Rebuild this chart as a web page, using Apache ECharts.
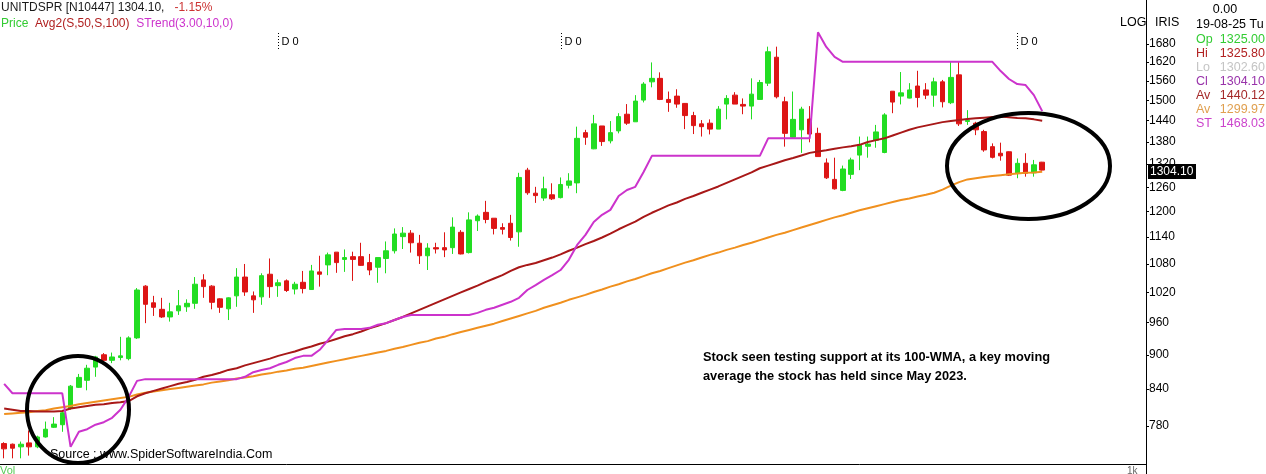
<!DOCTYPE html>
<html><head><meta charset="utf-8">
<script src="https://cdn.jsdelivr.net/npm/echarts@6.0.0/dist/echarts.min.js"></script>
<style>html,body{margin:0;padding:0;background:#fff;overflow:hidden}#chart{width:1266px;height:474px}</style>
</head><body><div id="chart"></div>
<script>
// ---- weekly OHLC (UNITDSPR) ----
const opens = [
753,752,748,754,748,763,778,782,808,843,
855,878,900,890,895,893,931,1033,999,986,
971,983,991,998,1046,1033,1007,987,1013,1052,
1013,1011,1058,1034,1044,1027,1041,1026,1063,1078,
1106,1090,1096,1096,1083,1073,1092,1109,1141,1149,
1126,1098,1116,1116,1116,1151,1105,1178,1198,1184,
1162,1172,1152,1304,1245,1233,1241,1234,1265,1271,
1406,1361,1425,1383,1411,1459,1437,1501,1557,1568,
1503,1513,1491,1455,1431,1433,1416,1489,1516,1488,
1483,1503,1553,1636,1496,1393,1414,1445,1404,1323,
1280,1252,1293,1344,1368,1385,1351,1528,1513,1507,
1544,1532,1516,1557,1493,1579,1438,1433,1409,1367,
1349,1353,1296,1322,1297,1325];
const highs = [
755,753,756,773,765,787,794,803,847,866,
882,898,903,904,933,934,1029,1035,1013,1009,
999,1025,1006,1052,1058,1035,1008,1010,1071,1080,
1022,1060,1092,1047,1047,1042,1065,1078,1098,1105,
1106,1112,1107,1127,1102,1094,1130,1160,1163,1156,
1145,1126,1127,1151,1186,1156,1198,1193,1226,1184,
1172,1192,1297,1310,1261,1287,1270,1285,1296,1423,
1414,1457,1425,1439,1462,1489,1516,1556,1619,1587,
1527,1534,1492,1466,1442,1444,1483,1516,1525,1506,
1568,1563,1671,1671,1511,1527,1481,1483,1420,1335,
1337,1316,1337,1395,1395,1428,1462,1528,1588,1553,
1592,1553,1570,1563,1621,1621,1471,1437,1414,1376,
1378,1354,1335,1349,1331,1325.8];
const lows = [
731,731,731,735,746,762,777,771,806,842,
838,861,888,885,890,890,929,959,973,969,
962,975,981,987,1009,986,979,965,991,1013,
979,995,1009,1011,1021,1016,1018,1025,1032,1056,
1061,1063,1044,1076,1056,1040,1060,1103,1113,1105,
1080,1067,1103,1095,1102,1101,1103,1154,1172,1146,
1146,1132,1118,1241,1221,1226,1228,1232,1257,1245,
1372,1360,1369,1376,1404,1428,1437,1494,1540,1501,
1466,1478,1416,1402,1395,1401,1416,1444,1489,1459,
1444,1503,1544,1506,1367,1390,1350,1379,1340,1281,
1254,1250,1281,1304,1337,1364,1349,1462,1488,1506,
1479,1504,1481,1479,1489,1425,1428,1399,1353,1335,
1329,1289,1283,1287,1287,1302.6];
const closes = [
745,746,752,748,763,775,783,801,845,860,
876,896,890,896,898,931,1025,996,990,971,
981,993,998,1037,1032,1000,990,1009,1052,1021,
1005,1055,1032,1040,1024,1037,1028,1065,1058,1100,
1083,1094,1090,1077,1067,1094,1109,1147,1149,1127,
1098,1115,1113,1111,1163,1102,1180,1189,1181,1160,
1158,1139,1285,1246,1239,1256,1231,1267,1276,1390,
1393,1431,1381,1406,1452,1433,1498,1550,1568,1503,
1494,1489,1455,1426,1423,1416,1474,1506,1489,1483,
1519,1555,1654,1511,1404,1444,1474,1402,1340,1284,
1256,1307,1331,1372,1374,1408,1457,1495,1523,1532,
1509,1516,1557,1496,1571,1431,1441,1414,1358,1338,
1342,1291,1322,1296,1318,1304.1];
// 50-week WMA (Av 1440.12)
const wma50 = [
808,806,804,804,803,803,803,804,808,810,
812,814,815,817,818,820,828,833,837,841,
845,849,852,856,861,864,868,873,876,881,
885,889,893,898,902,906,911,915,920,924,
929,934,938,943,949,954,959,965,971,978,
985,992,999,1006,1013,1020,1027,1034,1042,1049,
1056,1065,1073,1078,1082,1088,1094,1101,1109,1116,
1124,1131,1139,1148,1158,1167,1176,1187,1197,1206,
1215,1222,1231,1238,1246,1254,1262,1271,1280,1289,
1298,1309,1316,1323,1330,1336,1343,1350,1354,1357,
1361,1365,1368,1372,1380,1385,1390,1398,1406,1414,
1421,1426,1431,1436,1439,1442,1445,1447,1449,1451,
1452,1450,1448,1447,1444,1440.12];
// 100-week WMA (Av 1299.97)
const wma100 = [
799,800,801,802,804,805,808,810,812,815,
817,819,821,823,825,827,831,834,836,838,
840,842,844,846,848,851,853,855,858,860,
862,865,867,870,872,875,877,880,883,886,
889,892,895,898,901,904,907,911,914,918,
922,925,930,933,938,942,946,950,954,958,
963,968,973,978,983,989,994,999,1005,1010,
1015,1021,1026,1032,1037,1043,1048,1054,1060,1065,
1071,1077,1083,1088,1094,1100,1105,1111,1116,1122,
1127,1133,1139,1145,1150,1156,1162,1168,1174,1180,
1186,1191,1197,1203,1208,1213,1218,1223,1228,1232,
1237,1241,1246,1254,1264,1273,1280,1283,1286,1289,
1291,1293,1295,1297,1298,1299.97];
// SuperTrend(3,10) (ST 1468.03)
const supertrend = [
849,833,833,833,833,833,833,833,748,771,
775,782,786,793,806,827,854,857,857,857,
857,857,857,857,857,857,857,857,857,861,
869,873,876,882,887,894,898,898,909,927,
946,948,948,948,950,956,959,965,971,975,
975,975,975,975,975,975,975,979,985,989,
995,1001,1009,1025,1035,1046,1056,1067,1089,1122,
1145,1175,1192,1204,1238,1253,1261,1299,1342,1342,
1342,1342,1342,1342,1342,1342,1342,1342,1342,1342,
1342,1342,1390,1390,1390,1390,1390,1390,1720,1670,
1637,1621,1621,1621,1621,1621,1621,1621,1621,1621,
1621,1621,1621,1621,1621,1621,1621,1621,1621,1621,
1591,1566,1550,1547,1516,1468.03];
const yTickLabels = [780,840,900,960,1020,1080,1140,1200,1260,1320,1380,1440,1500,1560,1620,1680];
const yRange = [722.7, 1835.2];
const dividendWeeks = [33, 67, 122];
const lastDate = [2025, 7, 19];
const padWeeks = 12;
const lastClose = 1304.10;

const L = Math.log;
const n = opens.length;
const categories = [];
const endMs = Date.UTC(lastDate[0], lastDate[1], lastDate[2]);
for (let i = 0; i < n + padWeeks; i++) {
  categories.push(new Date(endMs + (i - (n - 1)) * 7 * 86400000).toISOString().slice(0, 10));
}
const candleData = opens.map((o, i) => [L(o), L(closes[i]), L(lows[i]), L(highs[i])]);

const FONT = 'Liberation Sans';
const chart = echarts.init(document.getElementById('chart'), null, {renderer: 'canvas'});
const option = {
  animation: false,
  backgroundColor: '#ffffff',
  grid: {left: 0, right: 120, top: 0, bottom: 10, containLabel: false, outerBoundsMode: 'none'},
  xAxis: {
    type: 'category', data: categories, boundaryGap: true,
    axisLine: {show: true, lineStyle: {color: '#000', width: 1}},
    axisTick: {show: false}, axisLabel: {show: false}, splitLine: {show: false}
  },
  yAxis: {
    type: 'value', position: 'right', min: L(yRange[0]), max: L(yRange[1]),
    axisLine: {show: true, onZero: false, lineStyle: {color: '#000', width: 1}},
    axisTick: {show: true, length: 3, customValues: yTickLabels.map(L), lineStyle: {color: '#000'}},
    axisLabel: {show: true, customValues: yTickLabels.map(L), margin: 3, color: '#000',
      fontSize: 12, fontFamily: FONT, formatter: v => String(Math.round(Math.exp(v)))},
    splitLine: {show: false}
  },
  series: [
    {type: 'candlestick', data: candleData, barWidth: 5,
     itemStyle: {color: '#22dd22', color0: '#dd1515', borderColor: '#22dd22', borderColor0: '#dd1515', borderWidth: 1}},
    {type: 'line', data: wma100.map(L), symbol: 'none', lineStyle: {color: '#f0901e', width: 2}, z: 3},
    {type: 'line', data: wma50.map(L), symbol: 'none', lineStyle: {color: '#a81818', width: 2}, z: 3},
    {type: 'line', data: supertrend.map(L), symbol: 'none', lineStyle: {color: '#cc33cc', width: 2}, z: 4}
  ]
};
chart.setOption(option);

const g = [];
function txt(x, y, text, color, size, extra) {
  g.push(Object.assign({type: 'text', x: x, y: y, z: 100,
    style: Object.assign({text: text, fill: color, fontSize: size, fontFamily: FONT, verticalAlign: 'middle'}, extra || {})}));
}
// header
g.push({type: 'text', x: 1, y: 8, z: 100, style: {text: '{a|UNITDSPR [N10447] 1304.10,}   {b|-1.15%}', fontSize: 12, fontFamily: FONT, verticalAlign: 'middle',
  rich: {a: {fill: '#1a1a1a', fontSize: 12, fontFamily: FONT}, b: {fill: '#cc3333', fontSize: 12, fontFamily: FONT}}}});
g.push({type: 'text', x: 1, y: 24, z: 100, style: {text: '{a|Price}  {b|Avg2(S,50,S,100)}  {c|STrend(3.00,10,0)}', fontSize: 12, fontFamily: FONT, verticalAlign: 'middle',
  rich: {a: {fill: '#33cc33', fontSize: 12, fontFamily: FONT}, b: {fill: '#b02020', fontSize: 12, fontFamily: FONT}, c: {fill: '#cc33cc', fontSize: 12, fontFamily: FONT}}}});
// right panel
txt(1225, 10, '0.00', '#000', 12.5, {align: 'center'});
txt(1196, 25, '19-08-25 Tu', '#000', 12.5);
txt(1120, 23, 'LOG', '#000', 12.5);
txt(1155, 23, 'IRIS', '#000', 12.5);
const rows = [['Op', '1325.00', '#33cc33'], ['Hi', '1325.80', '#b22222'], ['Lo', '1302.60', '#c4c4c4'],
  ['Cl', '1304.10', '#9933aa'], ['Av', '1440.12', '#a52a2a'], ['Av', '1299.97', '#e0a050'], ['ST', '1468.03', '#cc44cc']];
rows.forEach((r, i) => {
  const y = 40 + i * 14;
  txt(1196, y, r[0], r[2], 12.5);
  txt(1265, y, r[1], r[2], 12.5, {align: 'right'});
});
// axis line continuation into volume pane
g.push({type: 'line', z: 100, shape: {x1: 1146.5, y1: 464, x2: 1146.5, y2: 474}, style: {stroke: '#000', lineWidth: 1}});
// last price box
const py = chart.convertToPixel({yAxisIndex: 0}, L(lastClose));
g.push({type: 'rect', z: 100, shape: {x: 1148, y: py - 6, width: 48, height: 15}, style: {fill: '#000'}});
txt(1150, py + 1.5, lastClose.toFixed(2), '#fff', 12);
// dividend markers
dividendWeeks.forEach(idx => {
  const px = Math.round(chart.convertToPixel({xAxisIndex: 0}, idx)) + 0.5;
  g.push({type: 'line', z: 100, shape: {x1: px, y1: 33, x2: px, y2: 50}, style: {stroke: '#000', lineWidth: 1, lineDash: [1, 2]}});
  txt(px + 3, 42, 'D 0', '#000', 11);
});
// annotation ellipses
g.push({type: 'ellipse', z: 110, shape: {cx: 78, cy: 409.5, rx: 51, ry: 53.5}, style: {fill: null, stroke: '#000', lineWidth: 4}});
g.push({type: 'ellipse', z: 110, shape: {cx: 1028.5, cy: 166, rx: 81.5, ry: 53}, style: {fill: null, stroke: '#000', lineWidth: 4}});
// annotation text
txt(703, 357, 'Stock seen testing support at its 100-WMA, a key moving', '#000', 12.8, {fontWeight: 'bold'});
txt(703, 376, 'average the stock has held since May 2023.', '#000', 12.8, {fontWeight: 'bold'});
// footer
txt(50, 455, 'Source : www.SpiderSoftwareIndia.Com', '#000', 12.5);
txt(0, 471, 'Vol', '#55cc55', 11);
txt(1127, 471, '1k', '#666', 10);
chart.setOption({graphic: {elements: g}});
</script></body></html>
